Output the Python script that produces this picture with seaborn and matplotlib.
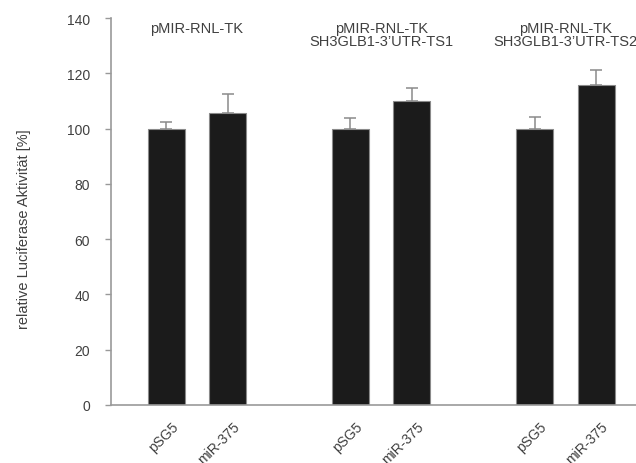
import numpy as np
import pandas as pd
import matplotlib
matplotlib.use('Agg')
import matplotlib.pyplot as plt
import seaborn as sns

# Data
groups = ['pMIR-RNL-TK', 'pMIR-RNL-TK\nSH3GLB1-3\u2019UTR-TS1', 'pMIR-RNL-TK\nSH3GLB1-3\u2019UTR-TS2']
conditions = ['pSG5', 'miR-375']
means = [100.0, 105.8, 100.0, 109.9, 100.0, 115.8]
errors = [2.3, 6.8, 3.9, 4.8, 4.3, 5.4]

sns.set_theme(style='white')
plt.rcParams['font.family'] = ['Liberation Sans', 'DejaVu Sans']

# each group takes two slots, with one empty slot between groups
positions = [g * 3 + c for g in range(len(groups)) for c in range(len(conditions))]
df = pd.DataFrame({
    'pos': positions,
    'condition': [c for _ in groups for c in conditions],
    'value': means,
    'err': errors,
})

fig = plt.figure(figsize=(6.36, 4.64), dpi=100)
ax = fig.add_axes([0.1745, 0.125, 0.8255, 0.834])

ax.errorbar(df['pos'], df['value'], yerr=[np.zeros(len(df)), df['err']],
            fmt='none', ecolor='#8a8a8a', elinewidth=1.1, capsize=4.5,
            capthick=1.1, zorder=0.5)
sns.barplot(data=df, x='pos', y='value', native_scale=True, width=0.6,
            color='#1b1b1b', edgecolor='#8a8a8a', linewidth=0.8,
            errorbar=None, ax=ax, zorder=2)

ax.set_xlim(-0.9, 7.65)
ax.set_ylim(0, 140)
ax.set_yticks(range(0, 141, 20))
# labels hang down-left from a point just right of each bar centre
ax.set_xticks(df['pos'] + 0.16)
ax.set_xticklabels(df['condition'], rotation=45, ha='right',
                   rotation_mode='anchor', va='center')

ax.tick_params(axis='y', left=True, length=4, width=1, color='#999999',
               labelsize=10, labelcolor='#404040', pad=11)
ax.tick_params(axis='x', bottom=False, labelsize=10, labelcolor='#404040', pad=8)

for side in ['top', 'right']:
    ax.spines[side].set_visible(False)
for side in ['left', 'bottom']:
    ax.spines[side].set_color('#999999')
    ax.spines[side].set_linewidth(1.2)

ax.set_xlabel('')
ax.set_ylabel('relative Luciferase Aktivit\u00e4t [%]', fontsize=10.5,
              color='#404040')
ax.yaxis.set_label_coords(-0.153, 0.457)

for g, title in enumerate(groups):
    center = g * 3 + 0.5
    ax.text(center, 138.8, title, ha='center', va='top', fontsize=10.5,
            color='#404040', linespacing=0.85)

fig.savefig('out.png', dpi=100)
